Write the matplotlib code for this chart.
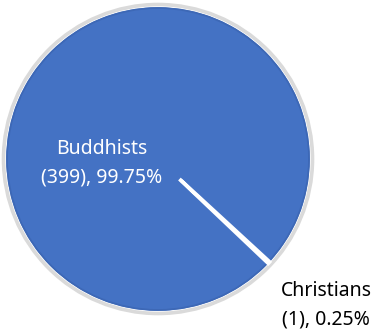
import matplotlib
matplotlib.use("Agg")
import matplotlib.pyplot as plt
from matplotlib.patches import Circle

categories = ["Buddhists", "Christians"]
counts = [399, 1]
percents = [99.75, 0.25]

W, H = 377, 331
cx, cy = 158, 159
R = 151

fig = plt.figure(figsize=(W / 100, H / 100), dpi=100)
ax = fig.add_axes([0, 0, 1, 1])

# soft gray rim
ax.add_patch(Circle((0, 0), R + 3.5, facecolor="none", edgecolor="#DADADA", lw=2.6, zorder=0))

# base pie (all blue)
ax.pie(counts, radius=R, startangle=-43.5, counterclock=False,
       colors=["#4472C4", "#4472C4"],
       wedgeprops=dict(linewidth=1.0, edgecolor="#4472C4"), frame=True)
ax.add_patch(Circle((0, 0), R, facecolor="none", edgecolor="#3D68B6", lw=1.3, zorder=3))

# white separator slice (annular, does not reach the centre)
w2, _ = ax.pie(counts, radius=R + 1, startangle=-43.5, counterclock=False,
               colors=["none", "white"],
               wedgeprops=dict(width=R - 30, linewidth=0), frame=True)
w2[1].set_edgecolor("white")
w2[1].set_linewidth(2.4)
w2[1].set_zorder(4)

fam = ["Noto Sans", "DejaVu Sans"]
ax.text(-56, -4, f"{categories[0]}\n({counts[0]}), {percents[0]:.2f}%",
        ha="center", va="center", color="white", fontsize=14,
        family=fam, linespacing=1.6)
ax.text(168, -146, f"{categories[1]}\n({counts[1]}), {percents[1]:.2f}%",
        ha="center", va="center", color="black", fontsize=14,
        family=fam, linespacing=1.6)

ax.set_xlim(-cx, W - cx)
ax.set_ylim(-(H - cy), cy)
ax.set_aspect("equal")
ax.axis("off")

fig.savefig("out.png", dpi=100)
